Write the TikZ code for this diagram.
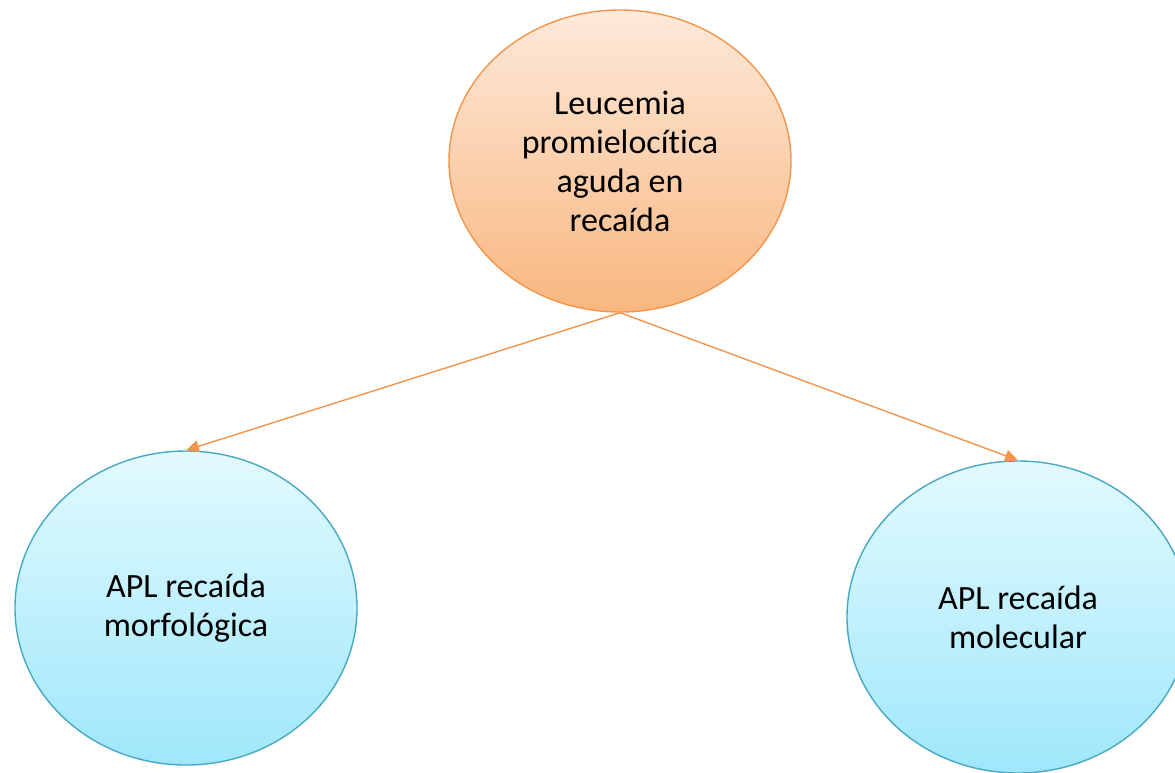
\documentclass[tikz,border=0pt]{standalone}
\usepackage{fontspec}
\setmainfont[Ligatures=NoCommon]{Carlito}
\usetikzlibrary{shapes.geometric,arrows.meta}
\definecolor{orangeline}{HTML}{F3954A}
\definecolor{orangetop}{HTML}{FDE9DA}
\definecolor{orangebot}{HTML}{F9B780}
\definecolor{blueline}{HTML}{48A8C3}
\definecolor{bluetop}{HTML}{E2FAFE}
\definecolor{bluebot}{HTML}{9FE7FB}
\tikzset{
  topnode/.style={ellipse, draw=orangeline, line width=1.4pt, top color=orangetop, bottom color=orangebot,
    minimum width=342pt, minimum height=302pt, inner sep=0pt, align=center,
    font=\fontsize{34}{39}\selectfont},
  subnode/.style={ellipse, draw=blueline, line width=1.4pt, top color=bluetop, bottom color=bluebot,
    minimum width=342pt, minimum height=314pt, inner sep=0pt, align=center,
    font=\fontsize{34}{39}\selectfont},
  link/.style={draw=orangeline, line width=1.4pt, -{Triangle[length=13pt,width=12pt]}}
}
\begin{document}
\begin{tikzpicture}[x=1pt,y=-1pt]
\useasboundingbox (0,0) rectangle (1175,772);
\clip (0,0) rectangle (1175,772);
\fill[white] (0,0) rectangle (1175,772);
\node[topnode] (top) at (620,161) {Leucemia\\promielocítica\\aguda en\\recaída};
\node[subnode] (left) at (186,608) {APL recaída\\morfológica};
\node[subnode, minimum height=312pt] (right) at (1018,617) {APL recaída\\molecular};
\draw[link] (top.south) -- (left.north);
\draw[link] (top.south) -- (right.north);
\end{tikzpicture}
\end{document}
